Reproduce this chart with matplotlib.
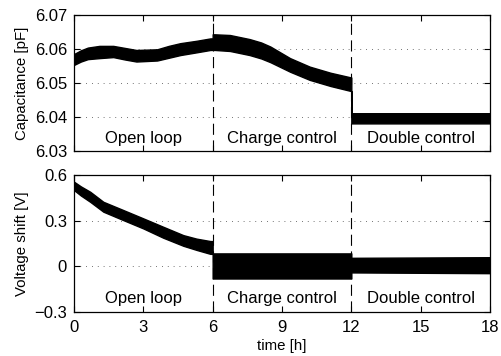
import matplotlib
matplotlib.use("Agg")
import matplotlib.pyplot as plt

plt.rcParams['font.family'] = ['Liberation Sans', 'DejaVu Sans']

# capacitance band, upper and lower envelope
cap_t = [0.0, 0.3, 0.6, 1.1, 1.7, 2.2, 2.7, 3.6, 4.1, 4.6, 5.3, 5.9, 6.0,
         6.0, 6.1, 6.75, 7.6, 8.1, 8.5, 9.35, 10.2, 11.1, 12.0, 12.0, 18.0]
cap_hi = [6.0585, 6.0596, 6.0604, 6.0609, 6.0609, 6.0603, 6.0597, 6.0599,
          6.0609, 6.0617, 6.0624, 6.0631, 6.0631, 6.0643, 6.0643, 6.0641,
          6.0629, 6.0619, 6.0607, 6.0573, 6.0548, 6.0530, 6.0516, 6.0411,
          6.0411]
cap_lo = [6.0553, 6.0563, 6.0570, 6.0573, 6.0576, 6.0569, 6.0563, 6.0566,
          6.0574, 6.0582, 6.0590, 6.0597, 6.0597, 6.0597, 6.0597, 6.0594,
          6.0582, 6.0572, 6.0561, 6.0533, 6.0509, 6.0491, 6.0476, 6.0381,
          6.0381]

# voltage shift band
v_t = [0.0, 0.3, 0.7, 1.27, 2.13, 3.0, 3.86, 4.73, 5.3, 5.9, 6.0, 6.0, 12.0,
       12.0, 18.0]
v_hi = [0.556, 0.525, 0.490, 0.424, 0.370, 0.315, 0.260, 0.205, 0.182,
        0.166, 0.166, 0.085, 0.085, 0.056, 0.060]
v_lo = [0.501, 0.465, 0.424, 0.359, 0.304, 0.249, 0.188, 0.135, 0.108,
        0.082, 0.082, -0.080, -0.080, -0.040, -0.045]

phases = ["Open loop", "Charge control", "Double control"]
phase_mid = [3, 9, 15]
phase_edges = [6, 12]

xticks = [0, 3, 6, 9, 12, 15, 18]
cap_ticks = [6.03, 6.04, 6.05, 6.06, 6.07]
v_ticks = [-0.3, 0, 0.3, 0.6]

fig = plt.figure(figsize=(5.01, 3.56), dpi=100)
ax1 = fig.add_axes([0.1477, 0.576, 0.8303, 0.382])
ax2 = fig.add_axes([0.1477, 0.1236, 0.8303, 0.3848])

dots = (0, (1, 6))


def style(ax, yt):
    ax.set_xlim(0, 18)
    ax.set_xticks(xticks)
    ax.set_yticks(yt)
    ax.tick_params(direction='in', top=True, right=True, length=4,
                   width=0.8, labelsize=12)
    ax.tick_params(axis='y', pad=5)
    ax.tick_params(axis='x', pad=6)
    for y in yt[1:-1]:
        ax.axhline(y, color='#444444', lw=0.6, ls=dots, zorder=0)
    for x in phase_edges:
        ax.axvline(x, color='black', lw=0.8, ls=(0, (10, 5)), zorder=3)
    for s in ax.spines.values():
        s.set_linewidth(0.9)


ax1.fill_between(cap_t, cap_lo, cap_hi, color='black', lw=1.0, zorder=2)
ax1.set_ylim(6.03, 6.07)
style(ax1, cap_ticks)
ax1.set_yticklabels(["6.03", "6.04", "6.05", "6.06", "6.07"])
ax1.tick_params(labelbottom=False)
ax1.set_ylabel("Capacitance [pF]", fontsize=10.8, labelpad=4)
for x, s in zip(phase_mid, phases):
    ax1.text(x, 6.0338, s, ha='center', va='center', fontsize=12)

ax2.fill_between(v_t, v_lo, v_hi, color='black', lw=1.0, zorder=2)
ax2.set_ylim(-0.3, 0.6)
style(ax2, v_ticks)
ax2.set_yticklabels(["\u22120.3", "0", "0.3", "0.6"])
ax2.set_ylabel("Voltage shift [V]", fontsize=10.8, labelpad=4)
ax2.set_xlabel("time [h]", fontsize=10.8, labelpad=3)
for x, s in zip(phase_mid, phases):
    ax2.text(x, -0.209, s, ha='center', va='center', fontsize=12)

fig.savefig("out.png", dpi=100)
